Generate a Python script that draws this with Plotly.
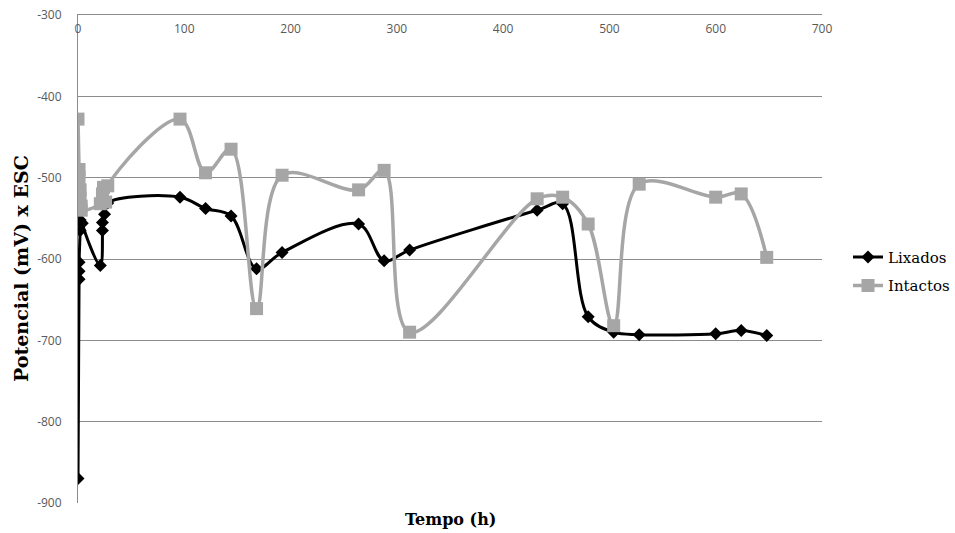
import plotly.graph_objects as go

# Open-circuit potential vs. time for sanded (Lixados) and as-received (Intactos) samples
lixados_t = [0, 1, 1, 1, 2, 2, 3, 4, 21, 23, 23, 25, 28, 96, 120, 144, 168, 192,
             264, 288, 312, 432, 456, 480, 504, 528, 600, 624, 648]
lixados_v = [-870, -625, -615, -604, -565, -552, -540, -556, -608, -565, -555, -545, -531,
             -524, -538, -547, -612, -592, -557, -602, -589, -540, -532, -671, -690,
             -693, -692, -688, -694]

intactos_t = [0, 1, 1, 2, 2, 3, 3, 21, 23, 24, 26, 28, 96, 120, 144, 168, 192,
              264, 288, 312, 432, 456, 480, 504, 528, 600, 624, 648]
intactos_v = [-428, -490, -500, -515, -525, -535, -540, -532, -520, -512, -530, -510,
              -428, -494, -465, -661, -497, -515, -491, -690, -526, -524, -557, -682,
              -508, -524, -520, -598]

x_ticks = [0, 100, 200, 300, 400, 500, 600, 700]
y_ticks = [-300, -400, -500, -600, -700, -800, -900]
y_tick_text = [str(v) for v in y_ticks]  # plain hyphen-minus labels

GRID = "#8c8c8c"
TICK_FONT = dict(family="Open Sans", size=12, color="#595959")
SERIF = "DejaVu Serif"

W, H = 955, 533
ML, MR, MT, MB = 78, 5, 15, 30
PW = W - ML - MR          # width of the paper area between margins
PH = H - MT - MB          # height of the paper area between margins
PLOT_RIGHT = 822          # right edge of the axes, in pixels

fig = go.Figure()
fig.add_trace(go.Scatter(
    x=lixados_t, y=lixados_v, name="Lixados", mode="lines+markers",
    legendgroup="lix",
    line=dict(color="#000000", width=3, shape="spline", smoothing=1),
    marker=dict(symbol="diamond", size=10, color="#000000"),
))
fig.add_trace(go.Scatter(
    x=intactos_t, y=intactos_v, name="Intactos", mode="lines+markers",
    legendgroup="int",
    line=dict(color="#a6a6a6", width=3.5, shape="spline", smoothing=1),
    marker=dict(symbol="square", size=13, color="#a6a6a6"),
))

fig.update_layout(
    width=W, height=H,
    margin=dict(l=ML, r=MR, t=MT, b=MB, autoexpand=False),
    paper_bgcolor="white", plot_bgcolor="white",
    showlegend=True,
    legend=dict(x=(848 - ML) / PW, y=0.475, xanchor="left", yanchor="middle",
                font=dict(family=SERIF, size=15, color="#000000"),
                bgcolor="rgba(0,0,0,0)", itemwidth=30,
                traceorder="grouped", tracegroupgap=6),
    xaxis=dict(
        domain=[0, (PLOT_RIGHT - ML) / PW],
        range=[0, 700], tickvals=x_ticks, side="top",
        ticklabelposition="inside", ticks="inside", ticklen=9,
        tickcolor="rgba(0,0,0,0)", ticklabeloverflow="allow",
        showgrid=False, zeroline=False,
        showline=True, linecolor=GRID, linewidth=1,
        tickfont=TICK_FONT,
    ),
    yaxis=dict(
        range=[-900, -300], tickvals=y_ticks, ticktext=y_tick_text,
        ticks="outside", ticklen=13, tickcolor="rgba(0,0,0,0)",
        showgrid=True, gridcolor=GRID, gridwidth=1,
        zeroline=False, showline=True, linecolor=GRID, linewidth=1,
        tickfont=TICK_FONT,
    ),
)

# Axis titles
fig.add_annotation(
    text="<b>Potencial (mV) x ESC</b>", xref="paper", yref="paper",
    x=(21 - ML) / PW, y=(H - MB - 269) / PH, xanchor="center", yanchor="middle",
    textangle=-90, showarrow=False,
    font=dict(family=SERIF, size=19, color="#000000"),
)
fig.add_annotation(
    text="<b>Tempo (h)</b>", xref="paper", yref="paper",
    x=(450 - ML) / PW, y=-0.01, yanchor="top", showarrow=False,
    font=dict(family=SERIF, size=16, color="#000000"),
)

fig.write_html("out.html")
